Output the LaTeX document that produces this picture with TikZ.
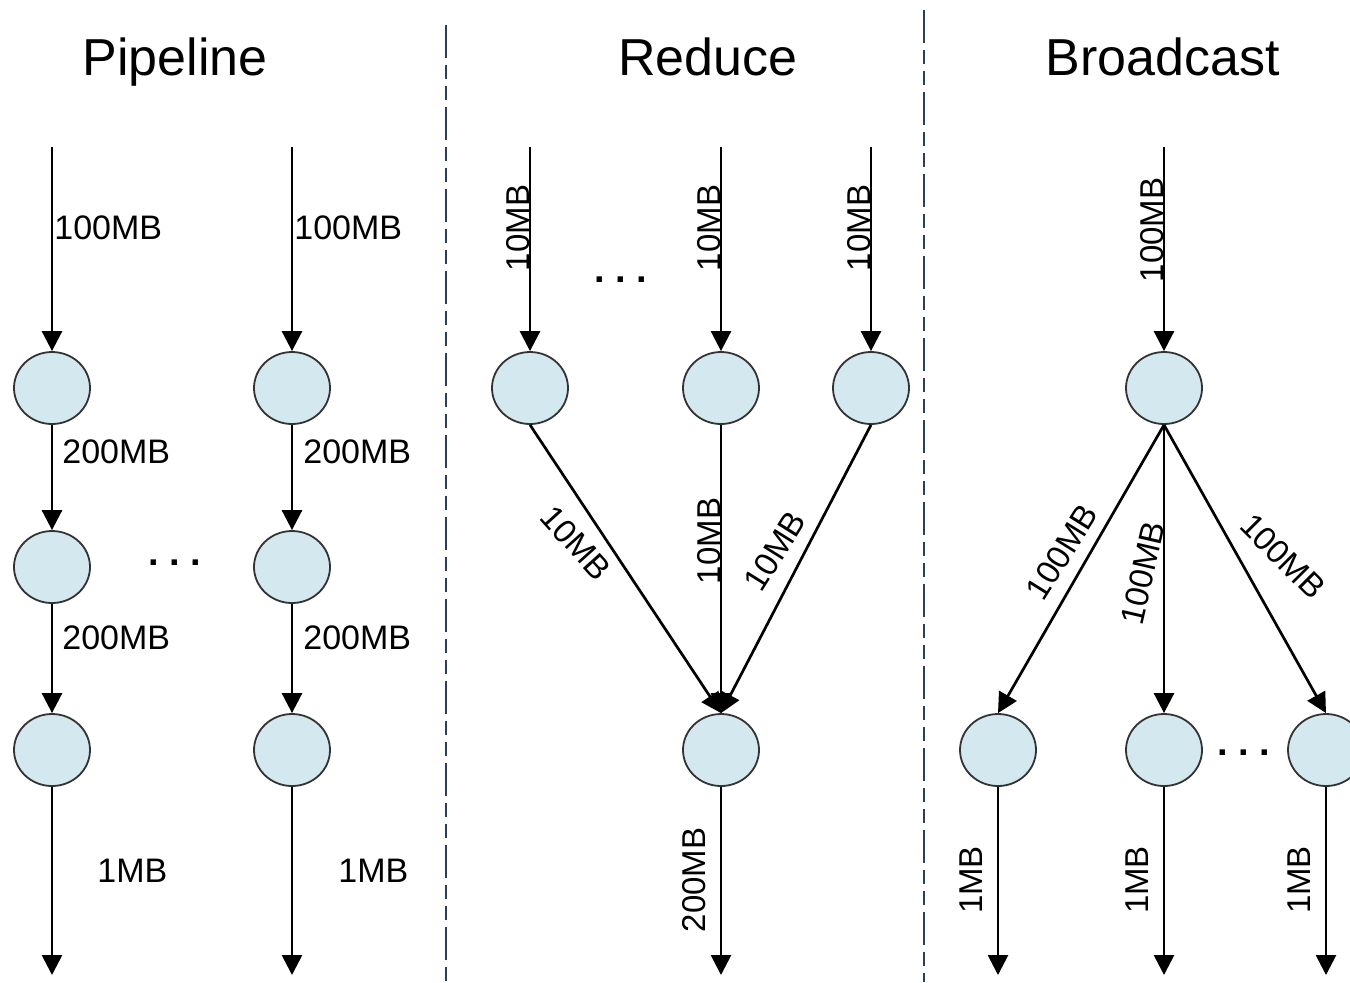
\documentclass[tikz,border=0pt]{standalone}
\usepackage{fontspec}
\setmainfont{Liberation Sans}
\usetikzlibrary{arrows.meta,shapes.geometric}
\definecolor{nodefill}{HTML}{D3E9EF}
\definecolor{nodeline}{HTML}{333333}
\definecolor{divline}{HTML}{2B3F5C}
\tikzset{
  vertex/.style={ellipse, draw=nodeline, line width=0.9pt, fill=nodefill,
    minimum width=38pt, minimum height=36pt, inner sep=0pt},
  flow/.style={line width=1.35pt, -{Triangle[length=10pt,width=10pt]}},
  title/.style={font=\fontsize{26}{30}\selectfont, inner sep=0pt, anchor=base},
  lab/.style={font=\fontsize{17}{20}\selectfont, inner sep=0pt},
  rlab/.style={font=\fontsize{16.5}{20}\selectfont, inner sep=0pt},
  dots/.style={font=\fontsize{19}{22}\selectfont\bfseries, inner sep=0pt},
  divider/.style={draw=divline, line width=1.3pt,
    dash pattern=on 16.5pt off 3.5pt on 7pt off 3.5pt on 7pt off 3.5pt}
}
\begin{document}
\begin{tikzpicture}[x=0.5pt, y=-0.5pt]
\useasboundingbox (0,0) rectangle (1350,982);

% section dividers
\coordinate (d1t) at (446,25);  \coordinate (d1b) at (446,982);
\coordinate (d2t) at (924,10);  \coordinate (d2b) at (924,982);
\draw[divider] (d1t) -- (d1b);
\draw[divider] (d2t) -- (d2b);

% titles
\node[title] (tp) at (175,75) {Pipeline};
\node[title] (tr) at (708,75) {Reduce};
\node[title] (tb) at (1163,75) {Broadcast};

% ---------------- Pipeline ----------------
\foreach \c/\x in {a/52, b/292} {
  \coordinate (\c in) at (\x,147);
  \node[vertex] (\c1) at (\x,388) {};
  \node[vertex] (\c2) at (\x,567) {};
  \node[vertex] (\c3) at (\x,750) {};
  \coordinate (\c out) at (\x,975);
  \draw[flow] (\c in) -- (\c1.north);
  \draw[flow] (\c1.south) -- (\c2.north);
  \draw[flow] (\c2.south) -- (\c3.north);
  \draw[flow] (\c3.south) -- (\c out);
}
\node[lab, anchor=west] at (54,228) {100MB};
\node[lab, anchor=west] at (62,452) {200MB};
\node[lab, anchor=west] at (62,638) {200MB};
\node[lab, anchor=west] at (97,871) {1MB};
\node[lab, anchor=west] at (294,228) {100MB};
\node[lab, anchor=west] at (303,452) {200MB};
\node[lab, anchor=west] at (303,638) {200MB};
\node[lab, anchor=west] at (338,871) {1MB};
\node[dots] (pdots) at (175,563) {.\ .\ .};

% ---------------- Reduce ----------------
\foreach \n/\x in {1/530, 2/721, 3/871} {
  \coordinate (rin\n) at (\x,147);
  \node[vertex] (r\n) at (\x,388) {};
  \draw[flow] (rin\n) -- (r\n.north);
  \node[rlab, rotate=90, anchor=base] at (\x-1,228) {10MB};
}
\node[vertex] (rs) at (721,750) {};
\coordinate (rout) at (721,975);
\draw[flow] (r1.south) -- (rs.north);
\draw[flow] (r2.south) -- (rs.north);
\draw[flow] (r3.south) -- (rs.north);
\draw[flow] (rs.south) -- (rout);
\node[rlab, rotate=-48] at (576,543) {10MB};
\node[rlab, rotate=90, anchor=base] at (720,541) {10MB};
\node[rlab, rotate=58] at (775,551) {10MB};
\node[rlab, rotate=90, anchor=base] at (705,880) {200MB};
\node[dots] (rdots) at (621,280) {.\ .\ .};

% ---------------- Broadcast ----------------
\coordinate (bin) at (1164,147);
\node[vertex] (b0) at (1164,388) {};
\draw[flow] (bin) -- (b0.north);
\node[rlab, rotate=90, anchor=base] at (1163,230) {100MB};
\foreach \n/\x in {1/998, 2/1164, 3/1326} {
  \node[vertex] (b\n) at (\x,750) {};
  \coordinate (bout\n) at (\x,975);
  \draw[flow] (b0.south) -- (b\n.north);
  \draw[flow] (b\n.south) -- (bout\n);
  \node[rlab, rotate=90, anchor=base] at (\x-16,880) {1MB};
}
\node[rlab, rotate=58] at (1062,552) {100MB};
\node[rlab, rotate=77] at (1143,573) {100MB};
\node[rlab, rotate=-45] at (1283,556) {100MB};
\node[dots] (bdots) at (1244,753) {.\ .\ .};
\end{tikzpicture}
\end{document}
